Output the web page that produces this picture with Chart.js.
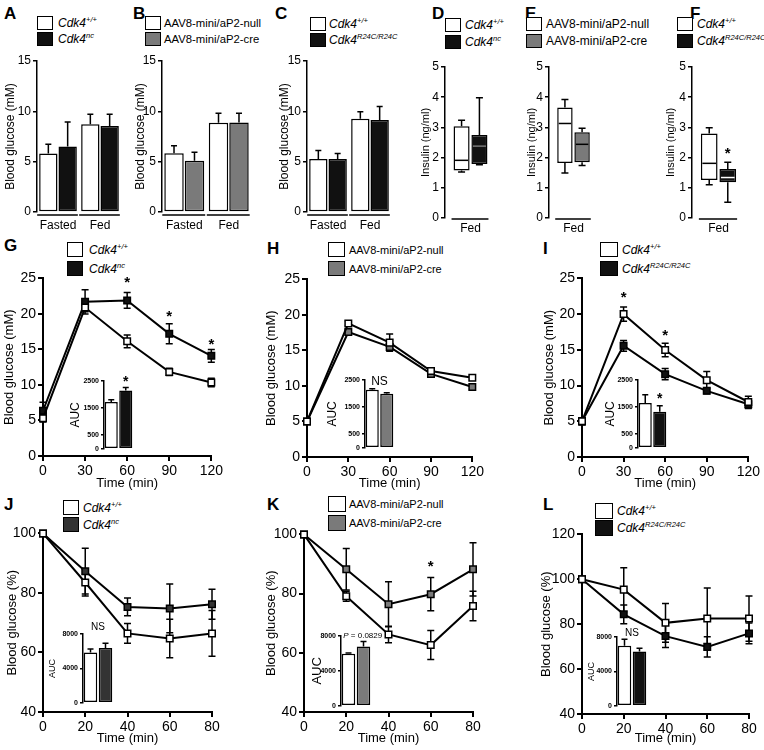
<!DOCTYPE html>
<html><head><meta charset="utf-8">
<script src="https://cdn.jsdelivr.net/npm/chart.js@4.4.1/dist/chart.umd.min.js"></script>
<style>
body{margin:0;background:#fff;}
#fig{position:relative;width:764px;height:750px;overflow:hidden;background:#fff;font-family:'Liberation Sans',Arial,Helvetica,sans-serif;color:#000;}
.pl{position:absolute;font-weight:bold;font-size:17px;line-height:17px;}
sup{font-size:7.5px;vertical-align:5px;line-height:0;}
</style></head>
<body><div id="fig"></div>
<script>
// ---------------- DATA ----------------
const fastFedLabels = ['Fasted', 'Fed'];
const aWildtype = [5.82, 8.72], aWildtypeErr = [0.92, 0.98];
const aNc = [6.51, 8.55], aNcErr = [2.44, 1.15];
const bNull = [5.83, 8.87], bNullErr = [0.76, 0.93];
const bCre = [5.10, 8.90], bCreErr = [0.83, 0.90];
const cWildtype = [5.27, 9.27], cWildtypeErr = [0.85, 0.70];
const cR24c = [5.27, 9.13], cR24cErr = [0.55, 1.34];

const fedLabels = ['Fed'];
// box = [low whisker, Q1, median, Q3, high whisker]
const dWildtypeBox = [1.52, 1.57, 1.91, 3.04, 3.24];
const dNcBox = [1.76, 1.79, 2.38, 2.75, 3.98];
const eNullBox = [1.49, 1.82, 3.13, 3.66, 3.92];
const eCreBox = [1.74, 1.85, 2.44, 2.84, 2.97];
const fWildtypeBox = [1.10, 1.26, 1.81, 2.80, 2.99];
const fR24cBox = [0.52, 1.18, 1.34, 1.62, 1.85];
const fStarLevel = 2.12;

const gttTimes = [0, 30, 60, 90, 120];
const gWildtype = [5.3, 20.9, 16.15, 11.84, 10.35], gWildtypeErr = [0.5, 0.6, 0.9, 0.5, 0.6];
const gNc = [6.37, 21.7, 21.9, 17.2, 14.1], gNcErr = [1.2, 1.7, 1.1, 1.4, 0.9];
const gStarTimes = [60, 90, 120], gStarLevels = [24.4, 19.6, 15.7];
const hNull = [5.0, 18.8, 16.1, 12.1, 11.15], hNullErr = [0.2, 0.3, 1.2, 0.3, 0.3];
const hCre = [5.0, 17.6, 15.5, 11.7, 9.85], hCreErr = [0.2, 0.4, 0.4, 0.3, 0.3];
const iWildtype = [5.0, 20.0, 14.97, 10.76, 7.7], iWildtypeErr = [0.5, 1.0, 0.95, 1.2, 0.8];
const iR24c = [5.0, 15.57, 11.6, 9.26, 7.39], iR24cErr = [0.5, 0.75, 0.8, 0.4, 0.6];
const iStarTimes = [30, 60], iStarLevels = [22.3, 17.0];

const ittTimes = [0, 20, 40, 60, 80];
const jWildtype = [100, 83.5, 66.4, 64.7, 66.4], jWildtypeErr = [0, 4.5, 3.3, 6.5, 7.7];
const jNc = [100, 87.3, 75.3, 74.8, 76.2], jNcErr = [0, 7.7, 3.0, 8.2, 5.0];
const kNull = [100, 79.1, 66.2, 62.6, 75.8], kNullErr = [0, 1.7, 2.8, 4.9, 5.0];
const kCre = [100, 88.2, 76.4, 79.8, 88.2], kCreErr = [0, 7.0, 7.6, 5.6, 9.0];
const kStarTimes = [60], kStarLevels = [89];
const lWildtype = [100, 95.4, 80.6, 82.5, 82.5], lWildtypeErr = [0, 9.8, 8.6, 13.6, 10.1];
const lR24c = [100, 84.4, 74.7, 69.9, 75.9], lR24cErr = [0, 4.2, 5.1, 4.5, 4.6];

const aucLabels = ['', ''];
const gAuc = [1728, 2149], gAucErr = [80, 108];
const hAuc = [2138, 1993], hAucErr = [36, 36];
const iAuc = [1656, 1329], iAucErr = [300, 217];
const jAuc = [5863, 6366], jAucErr = [388, 571];
const kAuc = [5972, 6795], kAucErr = [80, 563];
const lAuc = [6971, 6320], lAucErr = [766, 386];
const gttAucTicks = [0, 500, 1500, 2500];
const ittAucTicks = [0, 4000, 8000];

const wtLabel = '<i>Cdk4<sup>+/+</sup></i>';
const ncLabel = '<i>Cdk4<sup>nc</sup></i>';
const r24cLabel = '<i>Cdk4<sup>R24C/R24C</sup></i>';
const nullLabel = 'AAV8-mini/aP2-null';
const creLabel = 'AAV8-mini/aP2-cre';
const glucoseMM = 'Blood glucose (mM)';
const glucosePct = 'Blood glucose (%)';
const insulinTitle = 'Insulin (ng/ml)';
const timeTitle = 'Time (min)';

// ---------------- STYLE ----------------
const FONT = "'Liberation Sans', Arial, Helvetica, sans-serif";
const WHITE = '#ffffff', BLACK = '#111111', GRAY = '#7a7a7a', DARK = '#333333';
const fig = document.getElementById('fig');
const EXTRAS = new Map();

function letter(t, x, y) {
  const d = document.createElement('div'); d.className = 'pl';
  d.style.left = x + 'px'; d.style.top = y + 'px'; d.textContent = t; fig.appendChild(d);
}
function legend(x, y, rowH, bw, bh, gap, fs, entries) {
  entries.forEach((e, i) => {
    const d = document.createElement('div');
    d.style.cssText = `position:absolute;left:${x}px;top:${y + i * rowH}px;height:${bh}px;display:flex;align-items:center;font-size:${fs}px;white-space:nowrap;`;
    d.innerHTML = `<span style="display:inline-block;box-sizing:border-box;width:${bw}px;height:${bh}px;border:1.5px solid #000;background:${e[0]};margin-right:${gap}px"></span><span>${e[1]}</span>`;
    fig.appendChild(d);
  });
}
function mkCanvas(rect, yW, xH, pad) {
  const left = rect.l - yW - pad.left, top = rect.t - pad.top;
  const w = Math.round(rect.r + pad.right - left), h = Math.round(rect.b + xH + pad.bottom - top);
  const c = document.createElement('canvas');
  c.width = w; c.height = h;
  c.style.cssText = `position:absolute;left:${left}px;top:${top}px;width:${w}px;height:${h}px;`;
  fig.appendChild(c);
  return c;
}

function drawErr(chart) {
  const ctx = chart.ctx, ys = chart.scales.y;
  chart.data.datasets.forEach((ds, di) => {
    if (!ds.err) return;
    const meta = chart.getDatasetMeta(di);
    meta.data.forEach((el, i) => {
      const e = ds.err[i]; if (!e) return;
      const raw = ds.data[i]; const v = (typeof raw === 'object') ? raw.y : raw;
      const x = el.x, yT = ys.getPixelForValue(v + e), yB = ys.getPixelForValue(v - e), y0 = ys.getPixelForValue(v);
      const cw = ds.capW || 3;
      ctx.save(); ctx.strokeStyle = '#000'; ctx.lineWidth = ds.errW || 1.5;
      ctx.beginPath();
      ctx.moveTo(x, yT); ctx.lineTo(x, ds.errUp ? y0 : yB);
      ctx.moveTo(x - cw, yT); ctx.lineTo(x + cw, yT);
      if (!ds.errUp) { ctx.moveTo(x - cw, yB); ctx.lineTo(x + cw, yB); }
      ctx.stroke(); ctx.restore();
    });
  });
}
function drawBoxes(chart) {
  const ctx = chart.ctx, ys = chart.scales.y;
  chart.data.datasets.forEach((ds, di) => {
    if (!ds.box) return;
    const el = chart.getDatasetMeta(di).data[0];
    const [lo, q1, md, q3, hi] = ds.box; const x = el.x, hw = el.width / 2, cw = 3.5;
    const p = v => ys.getPixelForValue(v);
    ctx.save(); ctx.lineWidth = 1.5; ctx.strokeStyle = '#000';
    ctx.beginPath();
    ctx.moveTo(x, p(q3)); ctx.lineTo(x, p(hi)); ctx.moveTo(x - cw, p(hi)); ctx.lineTo(x + cw, p(hi));
    ctx.moveTo(x, p(q1)); ctx.lineTo(x, p(lo)); ctx.moveTo(x - cw, p(lo)); ctx.lineTo(x + cw, p(lo));
    ctx.stroke();
    ctx.strokeStyle = ds.medColor; ctx.beginPath();
    ctx.moveTo(x - hw + 1.5, p(md)); ctx.lineTo(x + hw - 1.5, p(md)); ctx.stroke();
    ctx.restore();
  });
}
function drawUnderline(chart, off) {
  const ctx = chart.ctx, ys = chart.scales.y, y = ys.getPixelForValue(ys.min) + off;
  chart.data.labels.forEach((lab, i) => {
    let l = Infinity, r = -Infinity;
    chart.data.datasets.forEach((ds, di) => {
      const el = chart.getDatasetMeta(di).data[i];
      l = Math.min(l, el.x - el.width / 2); r = Math.max(r, el.x + el.width / 2);
    });
    ctx.save(); ctx.strokeStyle = '#000'; ctx.lineWidth = 1.5;
    ctx.beginPath(); ctx.moveTo(l - 2, y); ctx.lineTo(r + 1, y); ctx.stroke(); ctx.restore();
  });
}
function drawNotes(chart, notes) {
  const ctx = chart.ctx;
  notes.forEach(n => {
    let x;
    if (n.ds != null) x = chart.getDatasetMeta(n.ds).data[n.i].x;
    else x = chart.scales.x.getPixelForValue(n.x);
    const y = chart.scales.y.getPixelForValue(n.y);
    ctx.save(); ctx.fillStyle = '#000'; ctx.textBaseline = 'middle';
    if (n.parts) {
      let cx = x;
      n.parts.forEach(p => { ctx.font = p.font; ctx.textAlign = 'left'; ctx.fillText(p.text, cx, y); cx += ctx.measureText(p.text).width; });
    } else { ctx.font = n.font; ctx.textAlign = 'center'; ctx.fillText(n.text, x, y); }
    ctx.restore();
  });
}
Chart.register({
  id: 'extras',
  beforeDatasetsDraw(chart) { const o = EXTRAS.get(chart.canvas) || {}; if (o.errBefore) drawErr(chart); },
  afterDatasetsDraw(chart) {
    const o = EXTRAS.get(chart.canvas) || {};
    if (!o.errBefore) drawErr(chart);
    drawBoxes(chart);
    if (o.underline != null) drawUnderline(chart, o.underline);
    if (o.notes) drawNotes(chart, o.notes);
  }
});

function yAxis(min, max, step, title, tfs, fs, bw, tl, yW, extra, bold) {
  return Object.assign({
    min, max, ticks: { stepSize: step, color: '#000', font: { family: FONT, size: fs, weight: bold ? 'bold' : 'normal' }, padding: 2,
      callback: v => String(v) },
    grid: { display: true, drawOnChartArea: false, drawTicks: true, tickLength: tl, color: '#000', lineWidth: bw },
    border: { display: true, color: '#000', width: bw },
    title: { display: true, text: title, color: '#000', font: { family: FONT, size: tfs }, padding: 0 },
    afterFit: s => { s.width = yW; }
  }, extra || {});
}
const baseOpts = { responsive: false, animation: false, devicePixelRatio: 1, events: [],
  plugins: { legend: { display: false }, tooltip: { enabled: false } } };
const catTicks = (pad) => ({ color: '#000', padding: pad, font: { family: FONT, size: 12 }, autoSkip: false, maxRotation: 0, minRotation: 0 });

function barPanel(rect, yW, s1, e1, s2, e2, col2) {
  const pad = { left: 2, top: 10, right: 4, bottom: 2 };
  const xH = 26;
  const c = mkCanvas(rect, yW, xH, pad);
  EXTRAS.set(c, { underline: 3 });
  const bar = (d, e, col) => ({ data: d, err: e, errUp: true, capW: 3, backgroundColor: col, borderColor: '#000', borderWidth: 1.5, borderSkipped: false, barPercentage: 0.95, categoryPercentage: 0.92 });
  new Chart(c, { type: 'bar', data: { labels: fastFedLabels, datasets: [bar(s1, e1, WHITE), bar(s2, e2, col2)] },
    options: Object.assign({}, baseOpts, { layout: { padding: pad }, scales: {
      x: { grid: { display: false, drawTicks: false }, border: { display: false }, ticks: catTicks(6), afterFit: s => { s.height = xH; } },
      y: yAxis(0, 15, 5, glucoseMM, 12, 12, 1.5, 4, yW)
    } }) });
}
function boxPanel(rect, yW, b1, b2, col2, med2, notes) {
  const pad = { left: 2, top: 10, right: 4, bottom: 2 };
  const xH = 22;
  const c = mkCanvas(rect, yW, xH, pad);
  EXTRAS.set(c, { underline: 1, notes });
  const box = (b, col, med) => ({ data: [[b[1], b[3]]], box: b, medColor: med, backgroundColor: col, borderColor: '#000', borderWidth: 1.5, borderSkipped: false, barPercentage: 0.9, categoryPercentage: 0.7 });
  new Chart(c, { type: 'bar', data: { labels: fedLabels, datasets: [box(b1, WHITE, '#000'), box(b2, col2, med2)] },
    options: Object.assign({}, baseOpts, { layout: { padding: pad }, scales: {
      x: { grid: { display: false, drawTicks: false }, border: { display: false }, ticks: catTicks(3), afterFit: s => { s.height = xH; } },
      y: yAxis(0, 5, 1, insulinTitle, 11, 12, 1.5, 4, yW)
    } }) });
}
function linePanel(rect, yW, xH, times, xStep, yMin, yMax, yStep, yTitle, series, notes) {
  const pad = { left: 2, top: 10, right: 13, bottom: 2 };
  const c = mkCanvas(rect, yW, xH, pad);
  EXTRAS.set(c, { errBefore: true, notes });
  const datasets = series.map(s => ({
    data: times.map((t, i) => ({ x: t, y: s[0][i] })), err: s[1], capW: 3.5,
    borderColor: '#000', borderWidth: 2, pointStyle: 'rect', pointRadius: 4.6, pointBackgroundColor: s[2],
    pointBorderColor: '#000', pointBorderWidth: 1.5, clip: false, tension: 0 }));
  new Chart(c, { type: 'line', data: { datasets },
    options: Object.assign({}, baseOpts, { layout: { padding: pad }, scales: {
      x: { type: 'linear', min: times[0], max: times[times.length - 1],
        ticks: { stepSize: xStep, color: '#000', font: { family: FONT, size: 14 }, padding: 2, autoSkip: false, maxRotation: 0 },
        grid: { display: true, drawOnChartArea: false, drawTicks: true, tickLength: 5, color: '#000', lineWidth: 2 },
        border: { display: true, color: '#000', width: 2 },
        title: { display: true, text: timeTitle, color: '#000', font: { family: FONT, size: 13 }, padding: 0 },
        afterFit: s => { s.height = xH; } },
      y: yAxis(yMin, yMax, yStep, yTitle, 13, 14, 2, 5, yW)
    } }) });
}
function insetPanel(rect, yW, vals, errs, cols, max, tickVals, tfs, notes) {
  const pad = { left: 1, top: 16, right: 48, bottom: 5 };
  const c = mkCanvas(rect, yW, 0, pad);
  EXTRAS.set(c, { notes });
  new Chart(c, { type: 'bar', data: { labels: aucLabels, datasets: [{ data: vals, err: errs, errUp: true, capW: 3,
      backgroundColor: cols, borderColor: '#000', borderWidth: 1.5, borderSkipped: false, barPercentage: 0.9, categoryPercentage: 1 }] },
    options: Object.assign({}, baseOpts, { layout: { padding: pad }, scales: {
      x: { display: false },
      y: yAxis(0, max, max, 'AUC', tfs, 7, 1.5, 3, yW, {
        afterBuildTicks: s => { s.ticks = tickVals.map(v => ({ value: v })); } }, true)
    } }) });
}

// ---------------- PANELS ----------------
letter('A', 4, 5); letter('B', 133, 5); letter('C', 275, 5); letter('D', 432, 5); letter('E', 525, 5); letter('F', 690, 5);
letter('G', 4, 237); letter('H', 267, 240); letter('I', 543, 240);
letter('J', 4, 496); letter('K', 267, 496); letter('L', 543, 496);

legend(37, 16, 16, 16, 14, 5, 12, [[WHITE, wtLabel], [BLACK, ncLabel]]);
legend(145, 16, 16, 16, 14, 3, 11.3, [[WHITE, nullLabel], [GRAY, creLabel]]);
legend(310, 17, 16, 16, 14, 3, 12, [[WHITE, wtLabel], [BLACK, r24cLabel]]);
legend(445, 18, 17, 16, 14, 4, 12, [[WHITE, wtLabel], [BLACK, ncLabel]]);
legend(526, 17, 17, 16, 14, 4, 12, [[WHITE, nullLabel], [GRAY, creLabel]]);
legend(677, 17, 17, 16, 14, 4, 12, [[WHITE, wtLabel], [BLACK, r24cLabel]]);
legend(67, 242, 19, 16, 15, 6, 12, [[WHITE, wtLabel], [BLACK, ncLabel]]);
legend(328, 242, 19, 17, 15, 4, 11, [[WHITE, nullLabel], [GRAY, creLabel]]);
legend(600, 242, 19, 18, 15, 4, 12, [[WHITE, wtLabel], [BLACK, r24cLabel]]);
legend(63, 500, 17, 16, 15, 4, 12, [[WHITE, wtLabel], [DARK, ncLabel]]);
legend(328, 496, 19, 18, 16, 3, 11, [[WHITE, nullLabel], [GRAY, creLabel]]);
legend(595, 503, 17, 18, 16, 4, 12, [[WHITE, wtLabel], [BLACK, r24cLabel]]);

barPanel({ l: 37, t: 61, r: 121, b: 212 }, 34, aWildtype, aWildtypeErr, aNc, aNcErr, BLACK);
barPanel({ l: 162, t: 61, r: 251, b: 212 }, 29, bNull, bNullErr, bCre, bCreErr, GRAY);
barPanel({ l: 307, t: 61, r: 391, b: 212 }, 30, cWildtype, cWildtypeErr, cR24c, cR24cErr, BLACK);

boxPanel({ l: 445, t: 67, r: 496, b: 218 }, 26, dWildtypeBox, dNcBox, BLACK, '#777');
boxPanel({ l: 549, t: 67, r: 598, b: 218 }, 24, eNullBox, eCreBox, GRAY, '#000');
boxPanel({ l: 692, t: 67, r: 745, b: 218 }, 28, fWildtypeBox, fR24cBox, BLACK, '#fff',
  [{ ds: 1, i: 0, y: fStarLevel, text: '*', font: `bold 15px ${FONT}` }]);

const star = (times, levels) => times.map((t, i) => ({ x: t, y: levels[i], text: '*', font: `bold 15px ${FONT}` }));
linePanel({ l: 43, t: 278, r: 212, b: 456 }, 41, 35, gttTimes, 30, 0, 25, 5, glucoseMM,
  [[gWildtype, gWildtypeErr, WHITE], [gNc, gNcErr, BLACK]], star(gStarTimes, gStarLevels));
linePanel({ l: 307, t: 279, r: 473, b: 457 }, 43, 34, gttTimes, 30, 0, 25, 5, glucoseMM,
  [[hNull, hNullErr, WHITE], [hCre, hCreErr, GRAY]]);
linePanel({ l: 582, t: 278, r: 749, b: 457 }, 40, 34, gttTimes, 30, 0, 25, 5, glucoseMM,
  [[iWildtype, iWildtypeErr, WHITE], [iR24c, iR24cErr, BLACK]], star(iStarTimes, iStarLevels));
linePanel({ l: 43, t: 533, r: 212, b: 712 }, 38, 34, ittTimes, 20, 40, 100, 20, glucosePct,
  [[jWildtype, jWildtypeErr, WHITE], [jNc, jNcErr, DARK]]);
linePanel({ l: 304, t: 534, r: 473, b: 712 }, 40, 34, ittTimes, 20, 40, 100, 20, glucosePct,
  [[kNull, kNullErr, WHITE], [kCre, kCreErr, GRAY]], star(kStarTimes, kStarLevels));
linePanel({ l: 582, t: 534, r: 749, b: 714 }, 43, 32, ittTimes, 20, 40, 120, 20, glucosePct,
  [[lWildtype, lWildtypeErr, WHITE], [lR24c, lR24cErr, BLACK]]);

insetPanel({ l: 104, t: 381, r: 133, b: 450 }, 36, gAuc, gAucErr, [WHITE, BLACK], 2500, gttAucTicks, 12,
  [{ x: 1, y: 2440, text: '*', font: `bold 14px ${FONT}` }]);
insetPanel({ l: 365, t: 380, r: 394, b: 449 }, 40, hAuc, hAucErr, [WHITE, GRAY], 2500, gttAucTicks, 12,
  [{ x: 0.5, y: 2420, text: 'NS', font: `12px ${FONT}` }]);
insetPanel({ l: 638, t: 380, r: 667, b: 449 }, 35, iAuc, iAucErr, [WHITE, BLACK], 2500, gttAucTicks, 12,
  [{ x: 1, y: 1800, text: '*', font: `bold 14px ${FONT}` }]);
insetPanel({ l: 83, t: 634, r: 113, b: 704 }, 36, jAuc, jAucErr, [WHITE, DARK], 8000, ittAucTicks, 9,
  [{ x: 0.5, y: 8800, text: 'NS', font: `10px ${FONT}` }]);
insetPanel({ l: 341, t: 636, r: 371, b: 707 }, 31, kAuc, kAucErr, [WHITE, GRAY], 8000, ittAucTicks, 13,
  [{ x: -0.35, y: 8000, parts: [{ text: 'P', font: `italic 8px ${FONT}` }, { text: ' = 0.0829', font: `8px ${FONT}` }] }]);
insetPanel({ l: 617, t: 637, r: 647, b: 707 }, 31, lAuc, lAucErr, [WHITE, BLACK], 8000, ittAucTicks, 9,
  [{ x: 0.5, y: 8420, text: 'NS', font: `10px ${FONT}` }]);
</script>
</body></html>
